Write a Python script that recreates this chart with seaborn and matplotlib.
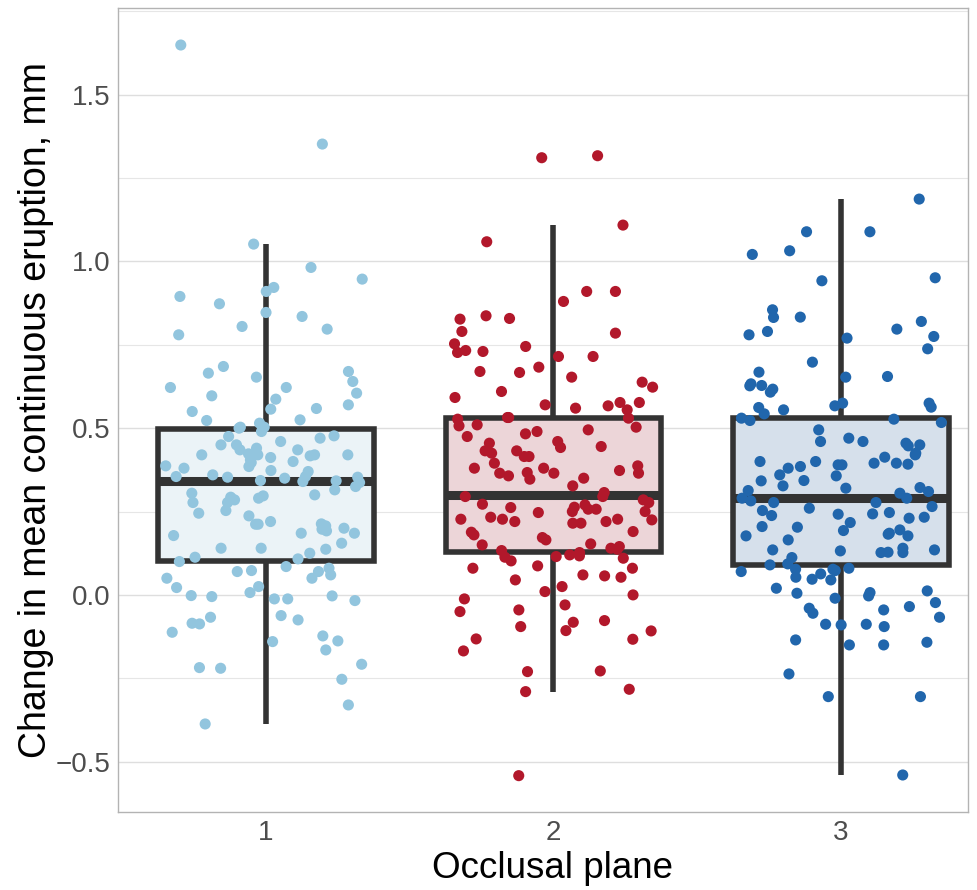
import numpy as np
import pandas as pd
import matplotlib
matplotlib.use("Agg")
import matplotlib.pyplot as plt
import seaborn as sns
from matplotlib.colors import to_rgb
from matplotlib.ticker import MultipleLocator

# values
groups = ["1", "2", "3"]
point_colors = ["#92C5DE", "#B2182B", "#2166AC"]

g1 = [1.649, 1.352, 1.052, 0.982, 0.947, 0.922, 0.910, 0.895, 0.873, 0.847, 0.835, 0.797, 0.805,
      0.780, 0.685, 0.670, 0.665, 0.653, 0.640, 0.622, 0.622, 0.605, 0.597, 0.587, 0.570, 0.550,
      0.557, 0.559, 0.525, 0.515, 0.523, 0.503, 0.503, 0.490, 0.500, 0.477, 0.470, 0.475, 0.460,
      0.450, 0.440, 0.450, 0.435, 0.435, 0.420, 0.417, 0.423, 0.420, 0.420, 0.420, 0.405, 0.397,
      0.400, 0.412, 0.385, 0.387, 0.380, 0.370, 0.373, 0.355, 0.353, 0.340, 0.355, 0.353, 0.350,
      0.360, 0.337, 0.325, 0.342, 0.343, 0.315, 0.305, 0.277, 0.290, 0.300, 0.297, 0.277, 0.285,
      0.293, 0.253, 0.245, 0.237, 0.212, 0.213, 0.207, 0.220, 0.212, 0.197, 0.200, 0.185, 0.192,
      0.185, 0.178, 0.155, 0.140, 0.140, 0.137, 0.125, 0.113, 0.108, 0.100, 0.070, 0.080, 0.073,
      0.085, 0.050, 0.060, 0.070, 0.050, 0.007, 0.025, 0.022,
      -0.012, -0.012, -0.003, -0.017, -0.002, -0.005, -0.075, -0.085, -0.067, -0.062, -0.087,
      -0.123, -0.138, -0.112, -0.140, -0.165, -0.208, -0.220, -0.218, -0.253, -0.330, -0.387]

g2 = [1.311, 1.317, 1.109, 1.059, 0.910, 0.910, 0.880, 0.837, 0.827, 0.829,
      0.785, 0.790, 0.753, 0.745, 0.733, 0.730, 0.727, 0.715, 0.715, 0.683, 0.670, 0.667, 0.653,
      0.638, 0.623, 0.610, 0.592, 0.577, 0.577, 0.570, 0.567, 0.555, 0.560, 0.530, 0.527, 0.532,
      0.532, 0.510, 0.503, 0.507, 0.495, 0.475, 0.483, 0.490, 0.455, 0.460, 0.442, 0.432, 0.445,
      0.432, 0.425, 0.415, 0.415, 0.395, 0.387, 0.373, 0.380, 0.367, 0.365, 0.380, 0.357, 0.365,
      0.365, 0.347, 0.350, 0.327, 0.307, 0.295, 0.295, 0.285, 0.263, 0.262, 0.257, 0.257, 0.270,
      0.272, 0.277, 0.250, 0.247, 0.250, 0.227, 0.225, 0.227, 0.215, 0.220, 0.233, 0.220, 0.227,
      0.215, 0.188, 0.190, 0.165, 0.172, 0.180, 0.153, 0.137, 0.127, 0.133, 0.140, 0.150, 0.145,
      0.120, 0.102, 0.115, 0.117, 0.113, 0.110, 0.087, 0.080, 0.053, 0.080, 0.060, 0.045, 0.057,
      0.025, 0.010, 0.000, -0.012,
      -0.030, -0.045, -0.050, -0.077, -0.107, -0.133, -0.082, -0.095, -0.108, -0.132, -0.168,
      -0.228, -0.230, -0.290, -0.283, -0.542]

g3 = [1.187, 1.089, 1.089, 1.021, 1.032, 0.951, 0.942, 0.855, 0.833, 0.820, 0.832, 0.797, 0.790,
      0.775, 0.770, 0.780, 0.738, 0.698, 0.655, 0.653, 0.668, 0.628, 0.608, 0.617, 0.633, 0.627,
      0.563, 0.562, 0.575, 0.543, 0.555, 0.527, 0.575, 0.567, 0.530, 0.517, 0.523, 0.495, 0.470,
      0.450, 0.455, 0.460, 0.460, 0.447, 0.420, 0.425, 0.413, 0.400, 0.385, 0.390, 0.390, 0.392,
      0.380, 0.395, 0.400, 0.395, 0.360, 0.357, 0.342, 0.327, 0.310, 0.343, 0.322, 0.320, 0.313,
      0.305, 0.282, 0.290, 0.290, 0.277, 0.277, 0.260, 0.265, 0.242, 0.243, 0.247, 0.253, 0.230,
      0.233, 0.238, 0.217, 0.203, 0.185, 0.177, 0.193, 0.195, 0.182, 0.205, 0.177, 0.165, 0.140,
      0.132, 0.135, 0.128, 0.127, 0.127, 0.135, 0.112, 0.093, 0.090, 0.080, 0.063, 0.047, 0.077,
      0.077, 0.070, 0.073, 0.053, 0.045, 0.012, 0.020, -0.003, 0.007, 0.005, -0.010,
      -0.023, -0.040, -0.045, -0.035, -0.055, -0.067, -0.088, -0.090, -0.095, -0.088, -0.150,
      -0.135, -0.142, -0.150, -0.237, -0.305, -0.305, -0.540]

df = pd.DataFrame({
    "plane": ["1"] * len(g1) + ["2"] * len(g2) + ["3"] * len(g3),
    "eruption": g1 + g2 + g3,
})

# box fill = point colour at 20% over white
fills = [tuple(0.2 * c + 0.8 for c in to_rgb(col)) for col in point_colors]

sns.set_style("white")
plt.rcParams["font.family"] = ["Liberation Sans", "DejaVu Sans"]

fig = plt.figure(figsize=(9.78, 8.9), dpi=100)
ax = fig.add_axes([118 / 978, 1 - 812 / 890, 850 / 978, 804 / 890])

# grid first so it sits under everything
ax.set_axisbelow(True)
ax.yaxis.set_minor_locator(MultipleLocator(0.25))
ax.grid(which="major", color="#DEDEDE", linewidth=1.0)
ax.grid(which="minor", axis="y", color="#E6E6E6", linewidth=0.8)

sns.boxplot(
    data=df, x="plane", y="eruption", hue="plane",
    order=groups, hue_order=groups, palette=fills,
    width=0.75, showfliers=False, linecolor="#333333", linewidth=4,
    medianprops=dict(linewidth=6.5), capprops=dict(linewidth=0),
    legend=False, ax=ax,
)

np.random.seed(7)
sns.stripplot(
    data=df, x="plane", y="eruption", hue="plane",
    order=groups, hue_order=groups, palette=point_colors,
    jitter=0.35, size=8, linewidth=0, legend=False, zorder=5, ax=ax,
)

ax.set_xlim(-0.515, 2.442)
ax.set_ylim(-0.651, 1.760)
ax.set_yticks([-0.5, 0.0, 0.5, 1.0, 1.5])

for s in ax.spines.values():
    s.set_visible(True)
    s.set_color("#B3B3B3")
    s.set_linewidth(1.0)

ax.tick_params(axis="both", which="major", length=3.5, width=1, color="#B3B3B3",
               labelcolor="#4D4D4D", labelsize=20, pad=2)
ax.tick_params(axis="y", which="minor", length=0)

ax.set_xlabel("Occlusal plane", fontsize=26.5, color="black", labelpad=4)
ax.xaxis.set_label_coords((553 - 118) / 850, -0.049)
ax.xaxis.label.set_verticalalignment("top")
ax.set_ylabel("Change in mean continuous eruption, mm", fontsize=27, color="black", labelpad=1)

fig.savefig("out.png", dpi=100)
